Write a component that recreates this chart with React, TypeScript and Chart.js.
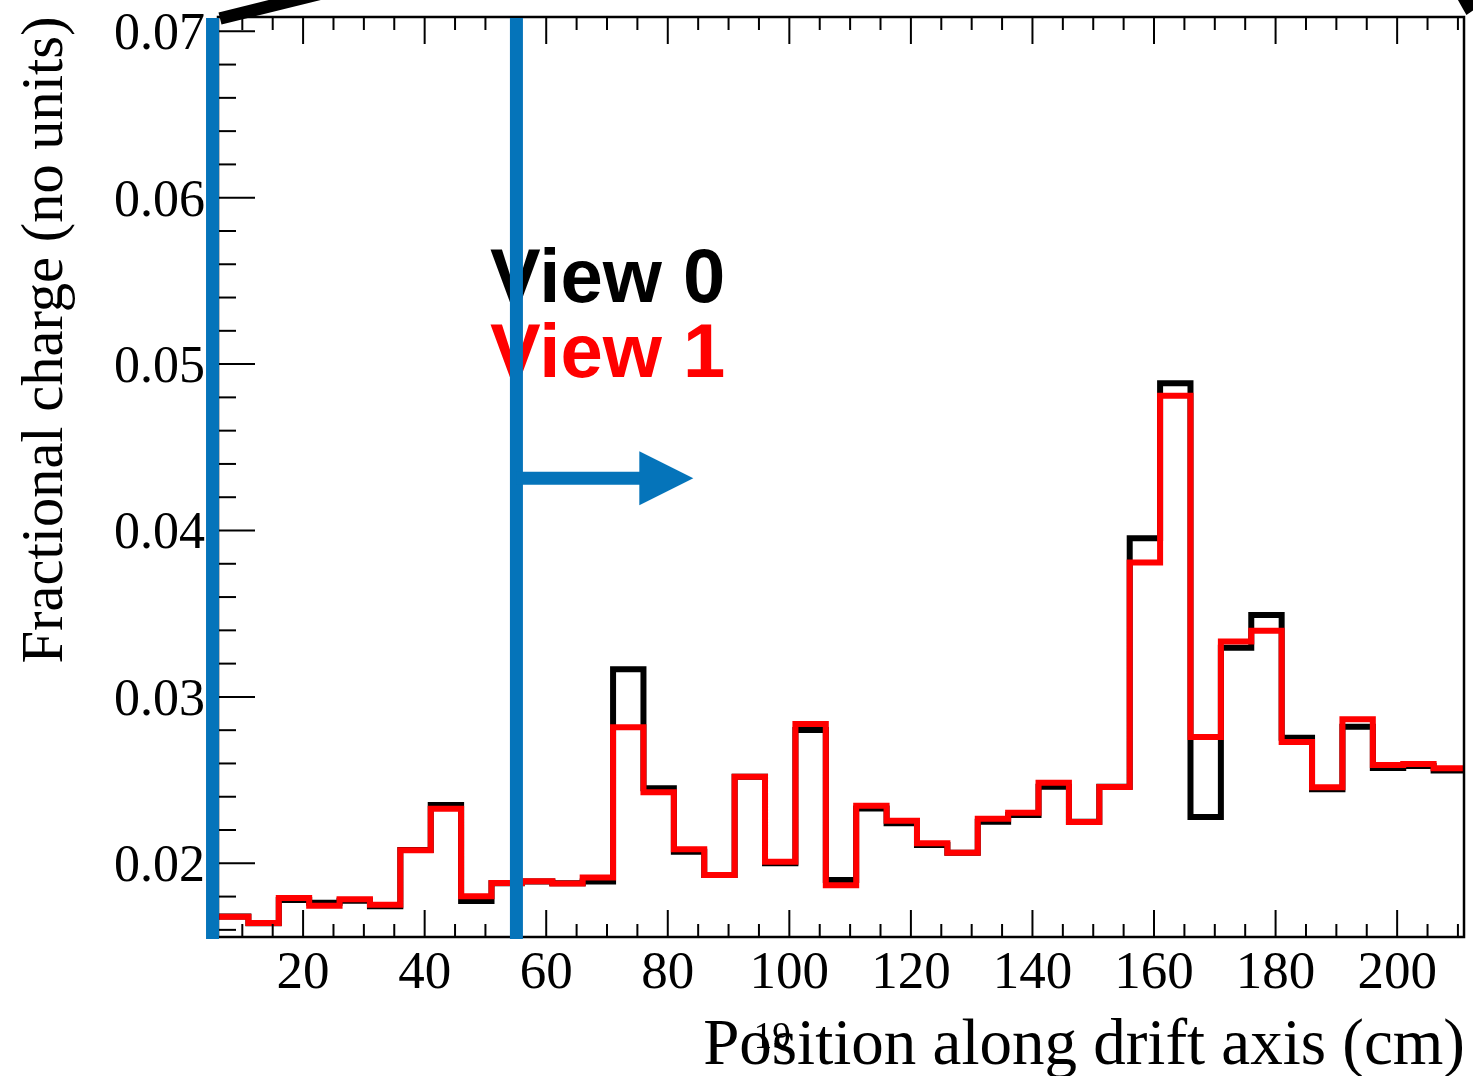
import React, { useEffect, useRef } from 'react';
import { Chart, registerables } from 'chart.js';

Chart.register(...registerables);

// Bin edges (cm) of the histogram
const binEdges = [6, 11, 16, 21, 26, 31, 36, 41, 46, 51, 56, 61, 66, 71, 76, 81, 86, 91, 96, 101, 106, 111, 116, 121, 126, 131, 136, 141, 146, 151, 156, 161, 166, 171, 176, 181, 186, 191, 196, 201, 206, 211];

// Fractional charge per bin
const view0 = [0.0168, 0.0164, 0.0178, 0.01763, 0.01775, 0.01742, 0.0208, 0.0235, 0.01773, 0.0188, 0.0189, 0.0188, 0.0189, 0.03166, 0.02451, 0.0207, 0.0193, 0.0252, 0.0200, 0.02801, 0.0190, 0.0233, 0.0224, 0.0211, 0.02064, 0.0225, 0.0229, 0.0246, 0.0225, 0.0246, 0.03953, 0.04885, 0.02278, 0.03296, 0.03492, 0.02755, 0.02445, 0.02821, 0.02573, 0.02585, 0.02557];
const view1 = [0.01679, 0.01641, 0.01791, 0.01745, 0.01784, 0.01751, 0.02078, 0.02328, 0.01802, 0.01882, 0.01892, 0.01878, 0.01914, 0.02817, 0.02427, 0.02084, 0.0193, 0.0252, 0.0201, 0.02837, 0.01868, 0.02346, 0.02256, 0.0212, 0.02064, 0.02268, 0.02304, 0.02484, 0.02248, 0.02459, 0.03807, 0.0481, 0.02759, 0.03333, 0.03398, 0.02729, 0.02457, 0.02865, 0.02591, 0.02597, 0.02571];

const seriesNames = ['View 0', 'View 1'];
const seriesColors = ['#000000', '#ff0000'];

const xTickValues = [20, 40, 60, 80, 100, 120, 140, 160, 180, 200];
const xTickLabels = ['20', '40', '60', '80', '100', '120', '140', '160', '180', '200'];
const yTickValues = [0.02, 0.03, 0.04, 0.05, 0.06, 0.07];
const yTickLabels = ['0.02', '0.03', '0.04', '0.05', '0.06', '0.07'];

const xTitle = 'Position along drift axis (cm)';
const yTitle = 'Fractional charge (no units)';
const strayLabel = '19';

// Blue cut lines and arrow (in axis units)
const cutLines = [5.1, 55.1];
const arrowStartX = 55.1;
const arrowTipX = 84.2;
const arrowY = 0.04314;

const X_MIN = 6;
const X_MAX = 211;
const Y_MIN = 0.015571;
const Y_MAX = 0.070859;

const BLUE = '#0574ba';

function toSteps(values: number[]) {
  const pts = values.map((v, i) => ({ x: binEdges[i], y: v }));
  pts.push({ x: binEdges[binEdges.length - 1], y: values[values.length - 1] });
  return pts;
}

const decorPlugin = {
  id: 'rootDecor',
  afterDatasetsDraw(chart: any) {
    const ctx: CanvasRenderingContext2D = chart.ctx;
    const { left, right, top, bottom } = chart.chartArea;
    const xs = chart.scales.x;
    const ys = chart.scales.y;
    const line = (x1: number, y1: number, x2: number, y2: number) => {
      ctx.beginPath();
      ctx.moveTo(x1, y1);
      ctx.lineTo(x2, y2);
      ctx.stroke();
    };
    ctx.save();
    ctx.strokeStyle = '#000';
    ctx.lineCap = 'butt';

    // frame
    ctx.lineWidth = 2.5;
    ctx.strokeRect(left, top, right - left, bottom - top);

    // x ticks (bottom and top)
    ctx.lineWidth = 2;
    for (let k = 2; k <= 42; k++) {
      const v = k * 5;
      const px = xs.getPixelForValue(v);
      const len = v % 20 === 0 ? 27 : 13;
      line(px, bottom, px, bottom - len);
      line(px, top, px, top + len);
    }
    // y ticks (left)
    for (let k = 8; k <= 35; k++) {
      const v = k * 0.002;
      const py = ys.getPixelForValue(v);
      const len = k % 5 === 0 ? 37 : 18;
      line(left, py, left + len, py);
    }

    // tick labels
    ctx.fillStyle = '#000';
    ctx.font = '53px "Liberation Serif", "Times New Roman", serif';
    ctx.textAlign = 'center';
    ctx.textBaseline = 'alphabetic';
    xTickValues.forEach((v, i) => {
      ctx.fillText(xTickLabels[i], xs.getPixelForValue(v), bottom + 51);
    });
    ctx.font = '52px "Liberation Serif", "Times New Roman", serif';
    ctx.textAlign = 'right';
    yTickValues.forEach((v, i) => {
      ctx.fillText(yTickLabels[i], left - 13, ys.getPixelForValue(v) + 18);
    });

    // axis titles
    ctx.font = '65px "Liberation Serif", "Times New Roman", serif';
    ctx.textAlign = 'right';
    ctx.fillText(xTitle, right + 1, bottom + 127);
    ctx.save();
    ctx.translate(62, 340);
    ctx.rotate(-Math.PI / 2);
    ctx.font = '58.5px "Liberation Serif", "Times New Roman", serif';
    ctx.textAlign = 'center';
    ctx.fillText(yTitle, 0, 0);
    ctx.restore();

    // stray "19"
    ctx.font = '37px "Liberation Serif", "Times New Roman", serif';
    ctx.textAlign = 'left';
    ctx.fillText(strayLabel, xs.getPixelForValue(94.3) - 1, bottom + 111);

    // legend-like labels
    ctx.font = 'bold 76px "Liberation Sans", Arial, Helvetica, sans-serif';
    ctx.textAlign = 'left';
    const legX = xs.getPixelForValue(50.75);
    ctx.fillStyle = seriesColors[0];
    ctx.fillText(seriesNames[0], legX, ys.getPixelForValue(0.05375));
    ctx.fillStyle = seriesColors[1];
    ctx.fillText(seriesNames[1], legX, ys.getPixelForValue(0.04924));

    // blue cut lines
    ctx.strokeStyle = BLUE;
    ctx.fillStyle = BLUE;
    ctx.lineWidth = 13;
    cutLines.forEach((v) => {
      const px = xs.getPixelForValue(v);
      line(px, top + 1, px, bottom + 2);
    });
    // arrow
    const ay = ys.getPixelForValue(arrowY);
    const ax0 = xs.getPixelForValue(arrowStartX);
    const tip = xs.getPixelForValue(arrowTipX);
    const headLen = 54;
    const headHalf = 27;
    line(ax0, ay, tip - headLen + 1, ay);
    ctx.beginPath();
    ctx.moveTo(tip, ay);
    ctx.lineTo(tip - headLen, ay - headHalf);
    ctx.lineTo(tip - headLen, ay + headHalf);
    ctx.closePath();
    ctx.fill();

    // black pieces of off-canvas annotations
    ctx.strokeStyle = '#000';
    ctx.fillStyle = '#000';
    ctx.lineWidth = 12.5;
    line(xs.getPixelForValue(6.33), ys.getPixelForValue(0.070769), xs.getPixelForValue(35.94), ys.getPixelForValue(0.073444));
    ctx.beginPath();
    ctx.moveTo(xs.getPixelForValue(210.0), ys.getPixelForValue(0.071881));
    ctx.lineTo(xs.getPixelForValue(212.6), ys.getPixelForValue(0.071881));
    ctx.lineTo(xs.getPixelForValue(212.6), ys.getPixelForValue(0.07128));
    ctx.lineTo(xs.getPixelForValue(211.4), ys.getPixelForValue(0.07098));
    ctx.closePath();
    ctx.fill();

    ctx.restore();
  },
};

export default function App() {
  const ref = useRef<HTMLCanvasElement | null>(null);
  useEffect(() => {
    if (!ref.current) return;
    const chart = new Chart(ref.current, {
      type: 'line',
      data: {
        datasets: [
          {
            label: seriesNames[0],
            data: toSteps(view0),
            borderColor: seriesColors[0],
            borderWidth: 6,
            stepped: true,
            pointRadius: 0,
            fill: false,
            borderJoinStyle: 'miter',
            borderCapStyle: 'butt',
            order: 2,
          },
          {
            label: seriesNames[1],
            data: toSteps(view1),
            borderColor: seriesColors[1],
            borderWidth: 6,
            stepped: true,
            pointRadius: 0,
            fill: false,
            borderJoinStyle: 'miter',
            borderCapStyle: 'butt',
            order: 1,
          },
        ],
      },
      options: {
        responsive: false,
        animation: false,
        devicePixelRatio: 1,
        layout: { padding: { left: 218, right: 9, top: 17, bottom: 139 } },
        scales: {
          x: { type: 'linear', min: X_MIN, max: X_MAX, display: false },
          y: { type: 'linear', min: Y_MIN, max: Y_MAX, display: false },
        },
        plugins: {
          legend: { display: false },
          tooltip: { enabled: false },
        },
      },
      plugins: [decorPlugin],
    });
    return () => chart.destroy();
  }, []);
  return (
    <div style={{ position: 'fixed', left: 0, top: 0, width: 1473, height: 1076, background: '#fff' }}>
      <canvas ref={ref} width={1473} height={1076} style={{ width: 1473, height: 1076, display: 'block' }} />
    </div>
  );
}
